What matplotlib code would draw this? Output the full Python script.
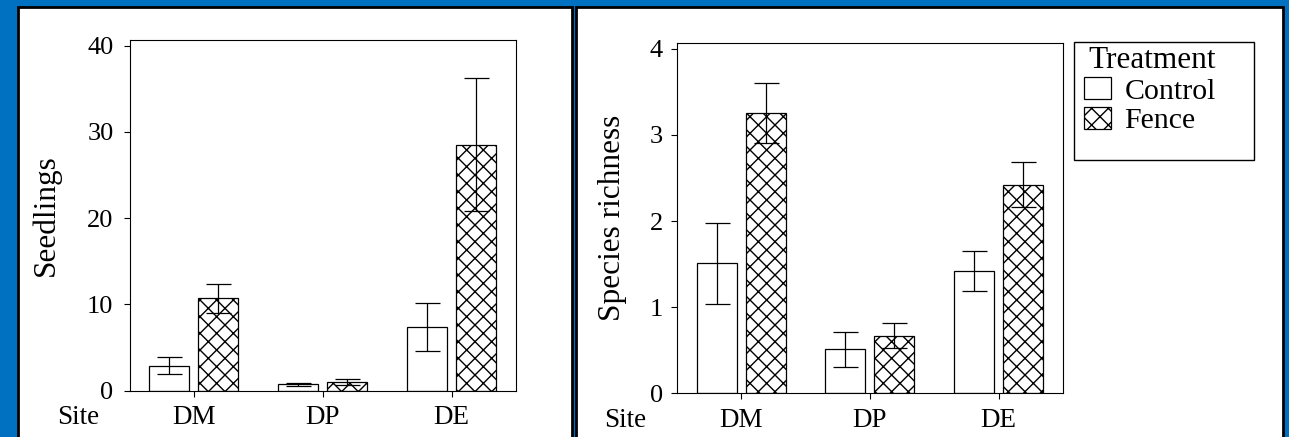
import matplotlib
matplotlib.use('Agg')
import matplotlib.pyplot as plt
import matplotlib.patches as patches
import numpy as np

# Values (mean and error bar half-length)
sites = ['DM', 'DP', 'DE']
treatments = ['Control', 'Fence']

seedlings_control = [2.9, 0.73, 7.4]
seedlings_control_err = [1.0, 0.18, 2.75]
seedlings_fence = [10.7, 1.05, 28.5]
seedlings_fence_err = [1.7, 0.35, 7.7]

richness_control = [1.51, 0.51, 1.42]
richness_control_err = [0.47, 0.20, 0.23]
richness_fence = [3.25, 0.67, 2.42]
richness_fence_err = [0.35, 0.145, 0.26]

seedling_ticks = [0, 10, 20, 30, 40]
richness_ticks = [0, 1, 2, 3, 4]

plt.rcParams['font.family'] = ['Liberation Serif', 'DejaVu Serif']
plt.rcParams['hatch.linewidth'] = 1.0

W, H = 1289, 437
blue = '#0070c0'
fig = plt.figure(figsize=(W / 100, H / 100), dpi=100, facecolor=blue)

# white panels with black border
for x0, x1 in [(17.5, 571.5), (575.5, 1283)]:
    fig.patches.append(patches.Rectangle((x0 / W, -0.05), (x1 - x0) / W, (H - 7) / H + 0.05,
                                         transform=fig.transFigure, facecolor='white',
                                         edgecolor='black', linewidth=2.0, zorder=-1))

x = np.arange(len(sites))
bw = 0.31
off = 0.19


def draw_panel(ax, control, control_err, fence, fence_err, ticks, top, ylabel, label_x, ypad):
    b1 = ax.bar(x - off, control, bw, color='white', edgecolor='black', linewidth=0.9, zorder=2)
    b2 = ax.bar(x + off, fence, bw, color='white', edgecolor='black', hatch='xx', linewidth=0.9, zorder=2)
    ax.errorbar(x - off, control, yerr=control_err, fmt='none', ecolor='black',
                elinewidth=0.9, capsize=9, capthick=0.9, zorder=3)
    ax.errorbar(x + off, fence, yerr=fence_err, fmt='none', ecolor='black',
                elinewidth=0.9, capsize=9, capthick=0.9, zorder=3)
    ax.set_xlim(-0.5, 2.5)
    ax.set_ylim(0, top)
    ax.set_yticks(ticks)
    ax.set_xticks(x)
    ax.set_xticklabels(sites)
    ax.tick_params(axis='y', labelsize=19, length=4.5, width=0.8, pad=ypad, direction='out')
    ax.tick_params(axis='x', labelsize=19.5, length=4.5, width=0.8, pad=6, direction='out')
    for s in ax.spines.values():
        s.set_linewidth(0.8)
    ax.set_ylabel(ylabel, fontsize=22.5)
    ax.yaxis.set_label_coords(label_x, 0.5)
    ax.annotate('Site', xy=(-0.9, 0), xycoords=('data', 'axes fraction'),
                xytext=(0, -10.5), textcoords='offset points',
                ha='center', va='top', fontsize=19.5, annotation_clip=False)
    return b1, b2


# left panel: seedlings
ax1 = fig.add_axes([129.5 / W, 46.3 / H, 386.5 / W, 350.7 / H])
draw_panel(ax1, seedlings_control, seedlings_control_err, seedlings_fence, seedlings_fence_err,
           seedling_ticks, 40.66, 'Seedlings', -0.177, 7)

# right panel: species richness
ax2 = fig.add_axes([676.8 / W, 43.7 / H, 386.2 / W, 350.6 / H])
bars = draw_panel(ax2, richness_control, richness_control_err, richness_fence, richness_fence_err,
                  richness_ticks, 4.07, 'Species richness', -0.129, 5.5)

# legend box drawn separately so it can have the empty space below
fig.patches.append(patches.Rectangle((1074 / W, 1 - 160 / H), 180 / W, 118.3 / H,
                                     transform=fig.transFigure, facecolor='white',
                                     edgecolor='black', linewidth=1.0, zorder=1))
leg = fig.legend(bars, treatments, title='Treatment', loc='upper left',
                 bbox_to_anchor=(1084 / W, 1 - 46 / H), frameon=False, fontsize=21.5,
                 title_fontsize=22.5, handlelength=0.9, handleheight=0.75,
                 handletextpad=0.45, labelspacing=0.08, borderpad=0, borderaxespad=0,
                 alignment='right')
leg.set_zorder(5)

fig.savefig('out.png', dpi=100, facecolor=fig.get_facecolor())
